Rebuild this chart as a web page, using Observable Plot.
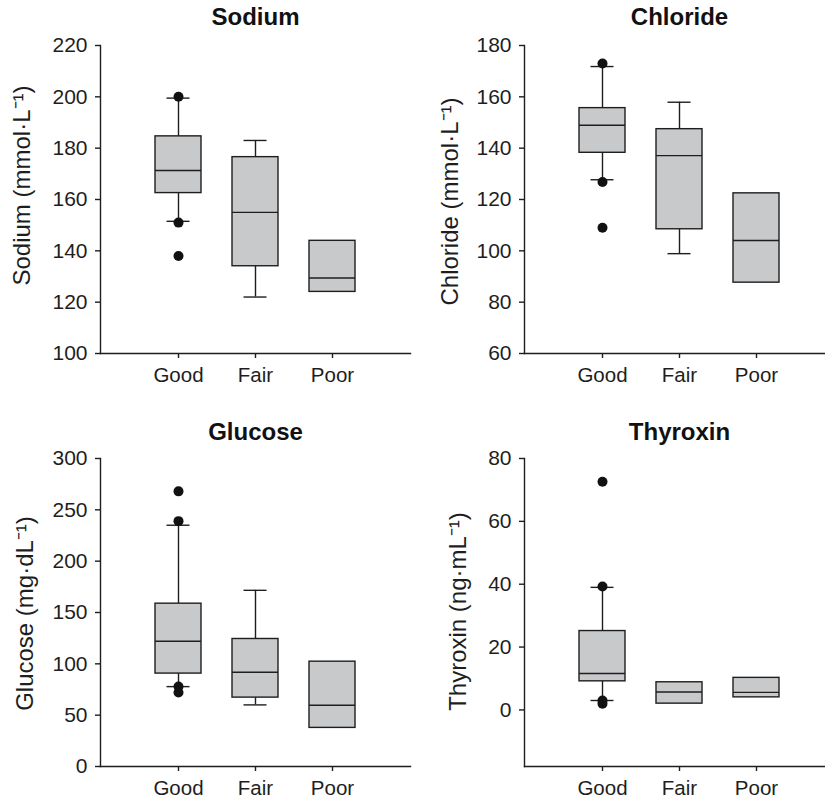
<!DOCTYPE html>
<html>
<head>
<meta charset="utf-8">
<script src="https://cdn.jsdelivr.net/npm/d3@7"></script>
<script src="https://cdn.jsdelivr.net/npm/@observablehq/plot@0.6"></script>
<style>
  html, body { margin: 0; padding: 0; background: #fff; }
  #wrap { position: relative; width: 825px; height: 803px; overflow: hidden; background: #fff; }
  .panel { position: absolute; }
  .panel svg { max-width: none !important; }
</style>
</head>
<body>
<div id="wrap"></div>
<script>
const categories = ["Good", "Fair", "Poor"];

// Sodium (mmol·L-1)
const sodiumLow = [151.5, 122, null];
const sodiumQ1 = [162.5, 134, 124];
const sodiumMedian = [171.3, 155, 129.4];
const sodiumQ3 = [184.6, 176.5, 143.9];
const sodiumHigh = [199.5, 183, null];
const sodiumOutliers = [["Good", 200], ["Good", 151], ["Good", 138]];
const sodiumTicks = [100, 120, 140, 160, 180, 200, 220];

// Chloride (mmol·L-1)
const chlorideLow = [127.7, 98.9, null];
const chlorideQ1 = [138.2, 108.4, 87.6];
const chlorideMedian = [148.9, 137.1, 104];
const chlorideQ3 = [155.6, 147.4, 122.4];
const chlorideHigh = [171.8, 157.9, null];
const chlorideOutliers = [["Good", 173], ["Good", 126.8], ["Good", 109]];
const chlorideTicks = [60, 80, 100, 120, 140, 160, 180];

// Glucose (mg·dL-1)
const glucoseLow = [77.8, 60, null];
const glucoseQ1 = [90.5, 67.1, 37.6];
const glucoseMedian = [122, 91.8, 59.6];
const glucoseQ3 = [158.6, 124.2, 102.1];
const glucoseHigh = [235, 171.6, null];
const glucoseOutliers = [["Good", 268], ["Good", 239], ["Good", 78], ["Good", 72]];
const glucoseTicks = [0, 50, 100, 150, 200, 250, 300];

// Thyroxin (ng·mL-1)
const thyroxinLow = [3.0, null, null];
const thyroxinQ1 = [9.1, 2.0, 4.0];
const thyroxinMedian = [11.6, 5.7, 5.6];
const thyroxinQ3 = [25.1, 8.8, 10.2];
const thyroxinHigh = [39, null, null];
const thyroxinOutliers = [["Good", 72.6], ["Good", 39.3], ["Good", 3.0], ["Good", 2.0]];
const thyroxinTicks = [0, 20, 40, 60, 80];

const FONT = "'Liberation Sans', Arial, Helvetica, sans-serif";
const INK = "#1e1e1e";
const BOX = "#c8c9cb";

function panel(o) {
  const rows = categories.map((c, i) => ({cat: c, low: o.low[i], q1: o.q1[i], med: o.med[i], q3: o.q3[i], high: o.high[i]}));
  const withHigh = rows.filter(d => d.high != null);
  const withLow = rows.filter(d => d.low != null);
  const outs = o.outliers.map(([cat, v]) => ({cat, v}));
  return Plot.plot({
    width: o.width,
    height: o.height,
    marginLeft: o.marginLeft,
    marginRight: o.marginRight,
    marginTop: o.marginTop,
    marginBottom: o.marginBottom,
    style: {fontFamily: FONT, color: INK, background: "transparent", overflow: "visible", maxWidth: "none"},
    x: {type: "band", domain: categories, paddingInner: 0.406, paddingOuter: 0.703, align: 0.5},
    y: {domain: o.domain},
    marks: [
      Plot.ruleX(withHigh, {x: "cat", y1: "q3", y2: "high", stroke: INK, strokeWidth: 1.4}),
      Plot.ruleX(withLow, {x: "cat", y1: "low", y2: "q1", stroke: INK, strokeWidth: 1.4}),
      Plot.tickY(withHigh, {x: "cat", y: "high", stroke: INK, strokeWidth: 1.4, insetLeft: 11.5, insetRight: 11.5}),
      Plot.tickY(withLow, {x: "cat", y: "low", stroke: INK, strokeWidth: 1.4, insetLeft: 11.5, insetRight: 11.5}),
      Plot.barY(rows, {x: "cat", y1: "q1", y2: "q3", fill: BOX, stroke: INK, strokeWidth: 1.4}),
      Plot.tickY(rows, {x: "cat", y: "med", stroke: INK, strokeWidth: 1.4}),
      Plot.dot(outs, {x: "cat", y: "v", r: 5, fill: "#111", stroke: null}),
      Plot.frame({anchor: "left", stroke: INK, strokeWidth: 1.4}),
      Plot.frame({anchor: "bottom", stroke: INK, strokeWidth: 1.4}),
      Plot.axisY({ticks: o.ticks, tickSize: 5, tickPadding: 8, fontSize: 21, label: null, stroke: INK, strokeWidth: 1.4}),
      Plot.axisX({tickSize: 5, tickPadding: 9, fontSize: 20.5, label: null, stroke: INK, strokeWidth: 1.4}),
      Plot.text([o.title], {frameAnchor: "top", dy: o.titleDy, fontSize: 24, fontWeight: "bold", lineAnchor: "middle", fill: "#111"}),
      Plot.text([o.label], {frameAnchor: "left", rotate: -90, dx: o.labelDx, dy: o.labelDy, fontSize: 24, textAnchor: "middle", lineAnchor: "middle", fill: INK})
    ]
  });
}

const specs = [
  {left: 0, top: 0, width: 412, height: 400, marginLeft: 100, marginRight: 2, marginTop: 45, marginBottom: 47,
   title: "Sodium", label: "Sodium (mmol·L⁻¹)", domain: [100, 220], ticks: sodiumTicks,
   low: sodiumLow, q1: sodiumQ1, med: sodiumMedian, q3: sodiumQ3, high: sodiumHigh, outliers: sodiumOutliers,
   titleDy: -28, labelDx: -78, labelDy: -14},
  {left: 412, top: 0, width: 422, height: 400, marginLeft: 112, marginRight: 0, marginTop: 45, marginBottom: 47,
   title: "Chloride", label: "Chloride (mmol·L⁻¹)", domain: [60, 180], ticks: chlorideTicks,
   low: chlorideLow, q1: chlorideQ1, med: chlorideMedian, q3: chlorideQ3, high: chlorideHigh, outliers: chlorideOutliers,
   titleDy: -28, labelDx: -74, labelDy: 2},
  {left: 0, top: 400, width: 412, height: 403, marginLeft: 100, marginRight: 2, marginTop: 58, marginBottom: 37,
   title: "Glucose", label: "Glucose (mg·dL⁻¹)", domain: [0, 300], ticks: glucoseTicks,
   low: glucoseLow, q1: glucoseQ1, med: glucoseMedian, q3: glucoseQ3, high: glucoseHigh, outliers: glucoseOutliers,
   titleDy: -26, labelDx: -75, labelDy: 1},
  {left: 412, top: 400, width: 422, height: 403, marginLeft: 112, marginRight: 0, marginTop: 58, marginBottom: 37,
   title: "Thyroxin", label: "Thyroxin (ng·mL⁻¹)", domain: [-18, 80], ticks: thyroxinTicks,
   low: thyroxinLow, q1: thyroxinQ1, med: thyroxinMedian, q3: thyroxinQ3, high: thyroxinHigh, outliers: thyroxinOutliers,
   titleDy: -26, labelDx: -66, labelDy: -1}
];

const wrap = document.getElementById("wrap");
for (const s of specs) {
  const div = document.createElement("div");
  div.className = "panel";
  div.style.left = s.left + "px";
  div.style.top = s.top + "px";
  div.style.width = s.width + "px";
  div.style.height = s.height + "px";
  div.appendChild(panel(s));
  wrap.appendChild(div);
}
</script>
</body>
</html>
